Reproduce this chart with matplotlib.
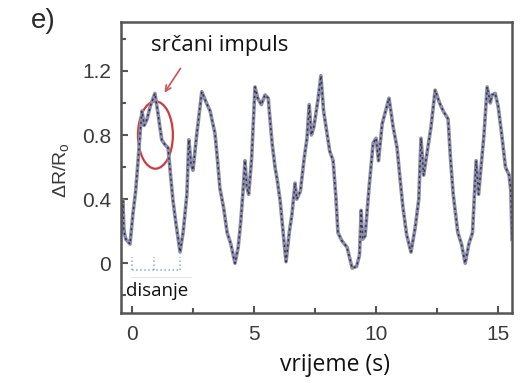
import numpy as np
import matplotlib
matplotlib.use('Agg')
import matplotlib.pyplot as plt
from matplotlib.patches import Ellipse

plt.rcParams['font.family'] = ['Liberation Sans', 'DejaVu Sans']

# DATA
t = [-0.45, -0.40, -0.37, -0.33, -0.25, -0.08, 0.04, 0.15, 0.25, 0.35, 0.41, 0.50, 0.62, 0.75,
     0.94, 1.05, 1.22, 1.35, 1.48, 1.58, 1.68, 1.80, 1.97, 2.10, 2.25, 2.33, 2.42, 2.50, 2.65,
     2.86, 3.05, 3.20, 3.40, 3.50, 3.60, 3.75, 3.90, 4.05, 4.22, 4.35, 4.45, 4.55, 4.63, 4.70,
     4.78, 4.90, 5.04, 5.15, 5.30, 5.45, 5.58, 5.74, 5.86, 5.95, 6.07, 6.20, 6.31, 6.45, 6.55,
     6.68, 6.75, 6.90, 7.05, 7.17, 7.26, 7.35, 7.45, 7.62, 7.74, 7.85, 7.99, 8.10, 8.24, 8.35,
     8.44, 8.60, 8.81, 9.02, 9.20, 9.32, 9.39, 9.45, 9.55, 9.70, 9.88, 10.00, 10.10, 10.25,
     10.53, 10.70, 10.86, 11.00, 11.10, 11.25, 11.43, 11.60, 11.75, 11.84, 11.95, 12.10, 12.25,
     12.42, 12.60, 12.75, 12.95, 13.05, 13.16, 13.35, 13.50, 13.65, 13.80, 13.95, 14.10, 14.20,
     14.30, 14.42, 14.55, 14.68, 14.75, 14.88, 15.00, 15.15, 15.30, 15.45, 15.52, 15.57]
dR = [0.19, 0.30, 0.39, 0.20, 0.15, 0.12, 0.31, 0.45, 0.64, 0.85, 0.95, 0.86, 0.90, 0.98,
      1.06, 0.95, 0.77, 0.74, 0.72, 0.55, 0.39, 0.25, 0.07, 0.20, 0.43, 0.77, 0.62, 0.58, 0.80,
      1.07, 1.00, 0.95, 0.81, 0.65, 0.47, 0.35, 0.19, 0.12, 0.00, 0.10, 0.25, 0.45, 0.64, 0.48,
      0.43, 0.65, 1.10, 1.03, 0.99, 1.05, 1.03, 0.75, 0.60, 0.52, 0.39, 0.18, 0.01, 0.20, 0.30,
      0.50, 0.40, 0.45, 0.65, 0.78, 0.99, 0.80, 0.85, 1.02, 1.17, 0.95, 0.81, 0.70, 0.64, 0.42,
      0.19, 0.14, 0.10, -0.03, -0.02, 0.05, 0.33, 0.15, 0.17, 0.45, 0.75, 0.78, 0.64, 0.87,
      1.03, 0.85, 0.72, 0.50, 0.35, 0.18, 0.07, 0.22, 0.40, 0.78, 0.55, 0.70, 0.85,
      1.08, 1.00, 0.95, 0.90, 0.65, 0.43, 0.19, 0.12, 0.00, 0.12, 0.19, 0.64, 0.43,
      0.60, 0.80, 1.10, 1.00, 1.05, 1.06, 0.98, 0.80, 0.60, 0.55, 0.45, 0.15]

x_ticks = [0, 5, 10, 15]
y_ticks = [0, 0.4, 0.8, 1.2]
y_tick_labels = ['0', '0.4', '0.8', '1.2']

# breathing bracket positions (s)
bracket_t = [0, 0.9, 1.97]

fig = plt.figure(figsize=(5.27, 3.83), dpi=100)
ax = fig.add_axes([0.2296, 0.1828, 0.742, 0.7598])

ax.plot(t, dR, color='#8e8eaa', lw=2.6, solid_joinstyle='round')
ax.plot(t, dR, color='#34344e', lw=1.1, ls=(0, (1.5, 2.0)))

# breathing bracket
c_br = '#86aebb'
ax.plot([bracket_t[0], bracket_t[-1]], [-0.04, -0.04], color=c_br, lw=1.1, ls=':')
for b in bracket_t:
    ax.plot([b, b], [-0.04, 0.04], color=c_br, lw=1.1, ls=':')
ax.plot([-0.05, 2.4], [-0.085, -0.085], color='#e6e6e6', lw=0.8)

# heartbeat marker
ax.add_patch(Ellipse((0.96, 0.80), 1.43, 0.42, fill=False, edgecolor='#d03a3a', lw=1.6))
ax.annotate('', xy=(1.27, 1.05), xytext=(2.05, 1.23),
            arrowprops=dict(arrowstyle='->', color='#d85050', lw=1.2))

ax.set_xlim(-0.45, 15.57)
ax.set_ylim(-0.31, 1.505)
ax.set_xticks(x_ticks)
ax.set_xticks([2.5, 7.5, 12.5], minor=True)
ax.set_yticks(y_ticks)
ax.set_yticklabels(y_tick_labels)
ax.set_yticks([-0.2, 0.2, 0.6, 1.0, 1.4], minor=True)
ax.tick_params(which='both', direction='in', colors='#555555', labelcolor='#3a3a3a',
               labelsize=15, width=1.5)
ax.tick_params(which='major', length=5)
ax.tick_params(which='minor', length=3.5)
ax.tick_params(axis='x', pad=9)
ax.tick_params(axis='y', pad=7)
for s in ax.spines.values():
    s.set_color('#555555')
    s.set_linewidth(1.8)

txt_font = ['Open Sans', 'DejaVu Sans']
ax.text(3.6, 1.36, 'srčani impuls', family=txt_font, fontsize=16, color='#111111',
        ha='center', va='center')
ax.text(-0.25, -0.17, 'disanje', family=txt_font, fontsize=13.5, color='#111111',
        ha='left', va='center')
fig.text(335 / 527, 1 - 365 / 383, 'vrijeme (s)', family=txt_font, fontsize=16.5,
         color='#111111', ha='center', va='center')
fig.text(62 / 527, 1 - 170 / 383, 'ΔR/R$_\\mathregular{o}$', fontsize=14,
         color='#3a3a3a', rotation=90, ha='center', va='center')
fig.text(43 / 527, 1 - 21 / 383, 'e)', fontsize=20, color='#2a2a2a',
         ha='center', va='center')

fig.savefig('out.png', dpi=100)
